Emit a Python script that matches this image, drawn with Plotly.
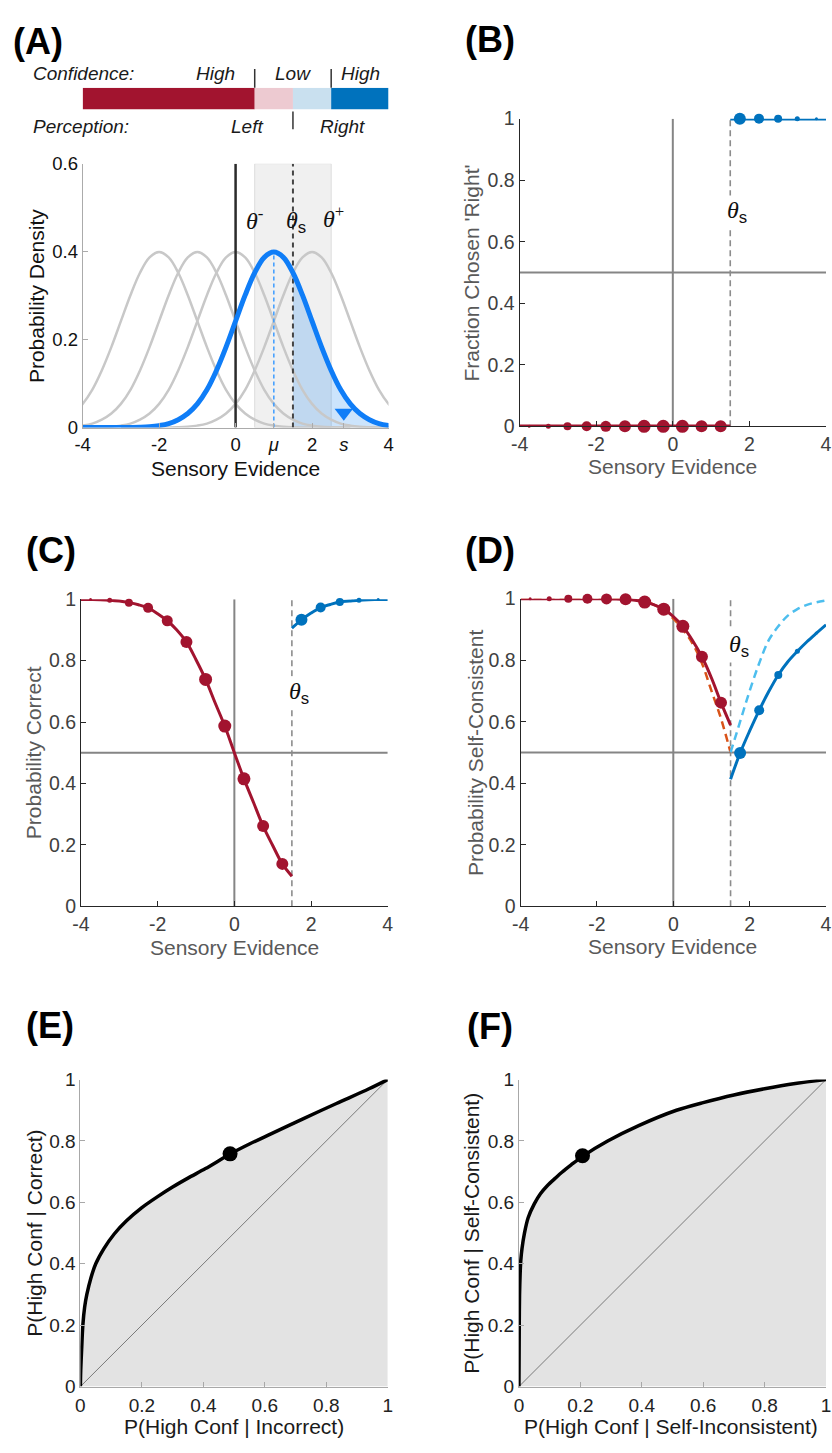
import plotly.graph_objects as go

W, H = 832, 1453

# ---------------- data ----------------
# Panel A (sensory-evidence units)
theta_minus = 0.5
theta_s = 1.5
theta_plus = 2.5
mu = 1.0
s_obs = 2.83
gray_means = [-2.0, -1.0, 0.0, 2.0]
# half profile of the evidence density curves, read at offsets 0..5 (step 0.25) from each peak
profile_offsets = [0.0, 0.25, 0.5, 0.75, 1.0, 1.25, 1.5, 1.75, 2.0, 2.25, 2.5,
                   2.75, 3.0, 3.25, 3.5, 3.75, 4.0, 4.25, 4.5, 4.75, 5.0]
profile_density = [0.399, 0.387, 0.352, 0.301, 0.242, 0.183, 0.130, 0.086, 0.054, 0.032, 0.018,
                   0.009, 0.0045, 0.002, 0.0009, 0.0004, 0.0001, 0.0, 0.0, 0.0, 0.0]
conf_edges = [-4.0, theta_minus, theta_s, theta_plus, 4.0]
a_tick_vals = [-4, -2, 0, mu, 2, s_obs, 4]
a_tick_text = ["-4", "-2", "0", "<i>μ</i>", "2", "<i>s</i>", "4"]

# Panels B-D: evidence bins
bin_centers = [-3.75, -3.25, -2.75, -2.25, -1.75, -1.25, -0.75, -0.25,
               0.25, 0.75, 1.25, 1.75, 2.25, 2.75, 3.25, 3.75]
bin_marker_px = [3, 5, 8, 10, 11, 12, 13, 13, 13, 12, 12, 12, 10, 8, 5, 3]
frac_right = [0, 0, 0, 0, 0, 0, 0, 0, 0, 0, 0, 1, 1, 1, 1, 1]

p_correct_bins = [0.999, 0.997, 0.989, 0.972, 0.930, 0.861, 0.739, 0.587,
                  0.415, 0.261, 0.138, 0.933, 0.973, 0.991, 0.997, 0.999]
c_left_x = [-4.0, -3.75, -3.5, -3.25, -3.0, -2.75, -2.5, -2.25, -2.0, -1.75, -1.5, -1.25,
            -1.0, -0.75, -0.5, -0.25, 0.0, 0.25, 0.5, 0.75, 1.0, 1.25, 1.5]
c_left_y = [0.9996, 0.9992, 0.9985, 0.997, 0.994, 0.989, 0.982, 0.972, 0.953, 0.930, 0.900, 0.861,
            0.803, 0.739, 0.662, 0.587, 0.500, 0.415, 0.338, 0.261, 0.198, 0.138, 0.098]
c_right_x = [1.5, 1.75, 2.0, 2.25, 2.5, 2.75, 3.0, 3.25, 3.5, 3.75, 4.0]
c_right_y = [0.906, 0.933, 0.955, 0.973, 0.983, 0.991, 0.994, 0.997, 0.9985, 0.999, 0.9996]

p_sc_bins = [1.0, 1.0, 1.0, 1.0, 0.999, 0.998, 0.989, 0.966,
             0.910, 0.811, 0.662, 0.498, 0.637, 0.752, 0.829, 0.888]
d_left_y = [1.0, 1.0, 1.0, 1.0, 1.0, 1.0, 1.0, 1.0, 1.0, 0.999, 0.999, 0.998,
            0.995, 0.989, 0.980, 0.966, 0.942, 0.910, 0.865, 0.811, 0.742, 0.662, 0.589]
d_left_dash_y = [1.0, 1.0, 1.0, 1.0, 1.0, 1.0, 1.0, 1.0, 1.0, 1.0, 1.0, 0.999,
                 0.996, 0.990, 0.980, 0.962, 0.935, 0.900, 0.855, 0.790, 0.700, 0.610, 0.500]
d_right_y = [0.413, 0.498, 0.570, 0.637, 0.698, 0.752, 0.795, 0.829, 0.860, 0.888, 0.915]
d_right_dash_y = [0.500, 0.600, 0.700, 0.790, 0.865, 0.910, 0.945, 0.966, 0.980, 0.988, 0.994]

# Panels E-F: type-2 ROC curves
roc_e_x = [0, 0.001, 0.004, 0.008, 0.014, 0.021, 0.034, 0.05, 0.077, 0.11, 0.15, 0.2,
           0.25, 0.3, 0.35, 0.407, 0.49, 0.55, 0.62, 0.726, 0.833, 0.939, 1.0]
roc_e_y = [0, 0.05, 0.12, 0.2, 0.26, 0.3, 0.353, 0.4, 0.45, 0.497, 0.54, 0.583,
           0.618, 0.65, 0.679, 0.71, 0.759, 0.79, 0.823, 0.873, 0.922, 0.97, 1.0]
roc_e_point = [0.487, 0.758]
roc_f_x = [0, 0.001, 0.002, 0.004, 0.006, 0.01, 0.018, 0.03, 0.05, 0.07, 0.093, 0.12, 0.14, 0.17,
           0.207, 0.289, 0.39, 0.513, 0.6, 0.7, 0.8, 0.9, 1.0]
roc_f_y = [0, 0.2, 0.3, 0.37, 0.41, 0.45, 0.5, 0.55, 0.595, 0.628, 0.655, 0.68, 0.698, 0.722,
           0.75, 0.8, 0.85, 0.9, 0.925, 0.95, 0.97, 0.987, 1.0]
roc_f_point = [0.207, 0.752]

# ---------------- styles ----------------
RED = "#A2142F"
BLUE = "#0072BD"
ORANGE = "#D95319"
LBLUE = "#4DBEEE"
REFGRAY = "#858585"
FONT = "Liberation Sans, Arial, sans-serif"
SERIF = "Liberation Serif, Times New Roman, serif"


def px(x):
    return x / W


def py(y):
    return 1 - y / H


def ax(n):
    return ("x" if n == 1 else f"x{n}"), ("y" if n == 1 else f"y{n}")


fig = go.Figure()


def add(n, **kw):
    xa, ya = ax(n)
    kw.setdefault("showlegend", False)
    kw.setdefault("hoverinfo", "skip")
    fig.add_trace(go.Scatter(xaxis=xa, yaxis=ya, **kw))


# full symmetric density profile
full_off = [-o for o in profile_offsets[::-1]] + profile_offsets[1:]
full_den = profile_density[::-1] + profile_density[1:]

# ---------- Panel A ----------
bx = [mu + o for o, d in zip(full_off, full_den) if theta_s <= mu + o <= 4.0]
by = [d for o, d in zip(full_off, full_den) if theta_s <= mu + o <= 4.0]
add(1, x=bx, y=by, mode="lines", fill="tozeroy", fillcolor="rgba(0,120,240,0.2)",
    line=dict(width=0, shape="spline"))
for m in gray_means:
    add(1, x=[m + o for o in full_off], y=full_den, mode="lines",
        line=dict(color="#C8C8C8", width=2.5, shape="spline"))
add(1, x=[0, 0], y=[0, 0.6], mode="lines", line=dict(color="#2B2B2B", width=2.5))
add(1, x=[theta_s, theta_s], y=[0, 0.6], mode="lines",
    line=dict(color="#444444", width=2, dash="5px,4px"))
add(1, x=[mu, mu], y=[0, profile_density[0]], mode="lines",
    line=dict(color="#3C9BFF", width=1.5, dash="4px,3px"))
add(1, x=[mu + o for o in full_off], y=full_den, mode="lines",
    line=dict(color="#0F7DF7", width=5, shape="spline"))
add(1, x=[s_obs], y=[0.034], mode="markers", cliponaxis=False,
    marker=dict(symbol="triangle-down", size=16, color="#0F7DF7", opacity=1))

# confidence bar (axis 7)
conf_colors = [RED, "#EDCAD1", "#C9E0EF", BLUE]
fig.add_trace(go.Bar(orientation="h", y=[0.5] * 4,
                     x=[conf_edges[i + 1] - conf_edges[i] for i in range(4)],
                     base=conf_edges[:-1], width=1, marker=dict(color=conf_colors, line=dict(width=0)),
                     xaxis="x7", yaxis="y7", showlegend=False, hoverinfo="skip"))

# ---------- Panels B, C, D common ----------
left_idx = [i for i, c in enumerate(bin_centers) if c < theta_s]
right_idx = [i for i, c in enumerate(bin_centers) if c > theta_s]


def ref_lines(n):
    add(n, x=[-4, 4], y=[0.5, 0.5], mode="lines", line=dict(color=REFGRAY, width=2))
    add(n, x=[0, 0], y=[0, 1], mode="lines", line=dict(color=REFGRAY, width=2))
    add(n, x=[theta_s, theta_s], y=[0, 1], mode="lines",
        line=dict(color="#8C8C8C", width=1.6, dash="6px,4px"))


def bin_markers(n, vals):
    for idx, col in ((left_idx, RED), (right_idx, BLUE)):
        add(n, x=[bin_centers[i] for i in idx], y=[vals[i] for i in idx], mode="markers",
            cliponaxis=False,
            marker=dict(color=col, opacity=1, size=[bin_marker_px[i] for i in idx], line=dict(width=0)))


# Panel B
ref_lines(2)
add(2, x=[-4, theta_s], y=[frac_right[0], frac_right[0]], mode="lines", line=dict(color=RED, width=3.5))
add(2, x=[theta_s, 4], y=[frac_right[-1], frac_right[-1]], mode="lines", line=dict(color=BLUE, width=3.5))
bin_markers(2, frac_right)

# Panel C
ref_lines(3)
add(3, x=c_left_x, y=c_left_y, mode="lines", line=dict(color=RED, width=3, shape="spline"))
add(3, x=c_right_x, y=c_right_y, mode="lines", line=dict(color=BLUE, width=3, shape="spline"))
bin_markers(3, p_correct_bins)

# Panel D
ref_lines(4)
add(4, x=c_left_x, y=d_left_dash_y, mode="lines", line=dict(color=ORANGE, width=2.5, dash="8px,5px", shape="spline"))
add(4, x=c_right_x, y=d_right_dash_y, mode="lines", line=dict(color=LBLUE, width=2.5, dash="8px,5px", shape="spline"))
add(4, x=c_left_x, y=d_left_y, mode="lines", line=dict(color=RED, width=3, shape="spline"))
add(4, x=c_right_x, y=d_right_y, mode="lines", line=dict(color=BLUE, width=3, shape="spline"))
bin_markers(4, p_sc_bins)

# Panels E, F
for n, rx, ry, pt in ((5, roc_e_x, roc_e_y, roc_e_point), (6, roc_f_x, roc_f_y, roc_f_point)):
    add(n, x=rx, y=ry, mode="lines", fill="tozeroy", fillcolor="#E3E3E3",
        line=dict(width=0, shape="spline", smoothing=0.8))
    add(n, x=[0, 1], y=[0, 1], mode="lines", line=dict(color="#7A7A7A", width=1))
    add(n, x=rx, y=ry, mode="lines", line=dict(color="black", width=3.5, shape="spline", smoothing=0.8))
    add(n, x=[pt[0]], y=[pt[1]], mode="markers", marker=dict(color="black", size=15, opacity=1))

# ---------------- layout ----------------
dom = {
    1: ([px(75), px(386.5)], [py(423), py(155)]),
    2: ([px(520), 1.0], [py(421.7), py(109.3)]),
    3: ([px(73.3), px(385.7)], [py(909), py(597.3)]),
    4: ([px(521), 1.0], [py(909), py(596.7)]),
    5: ([px(72.7), px(385.7)], [py(1396.7), py(1085)]),
    6: ([px(519.3), 1.0], [py(1396.7), py(1085)]),
}

layout = dict(width=W, height=H, margin=dict(l=0, r=0, t=0, b=0),
              paper_bgcolor="white", plot_bgcolor="rgba(0,0,0,0)",
              font=dict(family=FONT, size=18, color="#222"), showlegend=False)


def axis_style(linecolor, tickcolor, size):
    return dict(showgrid=False, zeroline=False, showline=True, linecolor=linecolor, linewidth=1,
                ticks="inside", ticklen=5, tickwidth=1, tickcolor=linecolor,
                ticklabeloverflow="allow",
                tickfont=dict(size=size, color=tickcolor, family=FONT), mirror=False, fixedrange=True)


unit_vals = [0, 0.2, 0.4, 0.6, 0.8, 1.0]
unit_text = ["0", "0.2", "0.4", "0.6", "0.8", "1"]
ev_vals = [-4, -2, 0, 2, 4]
ev_text = ["-4", "-2", "0", "2", "4"]

for n in range(1, 7):
    xd, yd = dom[n]
    xk = "xaxis" if n == 1 else f"xaxis{n}"
    yk = "yaxis" if n == 1 else f"yaxis{n}"
    ya = ax(n)[1]
    xa = ax(n)[0]
    if n == 1:
        xs = axis_style("#ABABAB", "#111", 18.5)
        ys = axis_style("#ABABAB", "#111", 18.5)
        xs.update(range=[-4, 4], tickvals=a_tick_vals, ticktext=a_tick_text)
        ys.update(range=[0, 0.6], tickvals=[0, 0.2, 0.4, 0.6], ticktext=["0", "0.2", "0.4", "0.6"])
    elif n in (2, 3, 4):
        xs = axis_style("#262626", "#404040", 19.5)
        ys = axis_style("#262626", "#404040", 19.5)
        xs.update(range=[-4, 4], tickvals=ev_vals, ticktext=ev_text)
        ys.update(range=[0, 1], tickvals=unit_vals, ticktext=unit_text)
    else:
        xs = axis_style("#A8A8A8", "#222", 19)
        ys = axis_style("#A8A8A8", "#222", 19)
        xs.update(range=[0, 1], tickvals=unit_vals, ticktext=unit_text, ticklabelstandoff=2)
        ys.update(range=[0, 1], tickvals=unit_vals, ticktext=unit_text)
    xs.update(domain=xd, anchor=ya)
    ys.update(domain=yd, anchor=xa)
    layout[xk] = xs
    layout[yk] = ys

layout["xaxis7"] = dict(domain=dom[1][0], range=[-4, 4], visible=False, anchor="y7", fixedrange=True)
layout["yaxis7"] = dict(domain=[py(100), py(78)], range=[0, 1], visible=False, anchor="x7", fixedrange=True)

fig.update_layout(**layout)

# shapes
shapes = [
    dict(type="rect", xref="x", yref="y", x0=theta_minus, x1=theta_plus, y0=0, y1=0.6,
         fillcolor="#F0F0F0", line=dict(color="#DCDCDC", width=1), layer="below"),
    dict(type="line", xref="x7", yref="paper", x0=theta_minus, x1=theta_minus, y0=py(78), y1=py(59),
         line=dict(color="#333", width=1.5)),
    dict(type="line", xref="x7", yref="paper", x0=theta_plus, x1=theta_plus, y0=py(78), y1=py(59),
         line=dict(color="#333", width=1.5)),
    dict(type="line", xref="x7", yref="paper", x0=theta_s, x1=theta_s, y0=py(102), y1=py(120),
         line=dict(color="#333", width=1.5)),
]
fig.update_layout(shapes=shapes)

ann = []


def text(xp, yp, t, size=21, color="#1a1a1a", xanchor="center", angle=0, family=FONT):
    ann.append(dict(x=px(xp), y=py(yp), xref="paper", yref="paper", text=t, showarrow=False,
                    xanchor=xanchor, yanchor="middle", textangle=angle,
                    font=dict(size=size, color=color, family=family)))


# panel labels
for lab, xp, yp in (("(A)", 2, 31), ("(B)", 462, 29), ("(C)", 15, 548), ("(D)", 462, 548),
                    ("(E)", 15, 1030), ("(F)", 464, 1031)):
    text(xp, yp, f"<b>{lab}</b>", size=36, color="black", xanchor="left")

# confidence bar texts
text(22, 63, "<i>Confidence:</i>", size=19, xanchor="left")
text(210, 63, "<i>High</i>", size=19)
text(289, 63, "<i>Low</i>", size=19)
text(358, 63, "<i>High</i>", size=19)
text(22, 117, "<i>Perception:</i>", size=19, xanchor="left")
text(242, 117, "<i>Left</i>", size=19)
text(340, 117, "<i>Right</i>", size=19)

# axis titles
text(28, 289, "Probability Density", angle=-90, color="#111")
text(230.7, 465, "Sensory Evidence", color="#111")
text(471, 266, "Fraction Chosen 'Right'", angle=-90, color="#595959")
text(676, 463, "Sensory Evidence", color="#595959")
text(25, 753, "Probability Correct", angle=-90, color="#595959")
text(230, 951, "Sensory Evidence", color="#595959")
text(475, 753, "Probability Self-Consistent", angle=-90, color="#595959")
text(676, 950, "Sensory Evidence", color="#595959")
text(26, 1241, "P(High Conf | Correct)", angle=-90)
text(229, 1437, "P(High Conf | Incorrect)")
text(471, 1241, "P(High Conf | Self-Consistent)", angle=-90)
text(674, 1437, "P(High Conf | Self-Inconsistent)")

SUBS = "<sub><span style='font-family:Liberation Sans, Arial, sans-serif'>s</span></sub>"


def theta(n, x, y, t, bg=None):
    xa, ya = ax(n)
    d = dict(x=x, y=y, xref=xa, yref=ya, text=t, showarrow=False, xanchor="center", yanchor="middle",
             font=dict(size=24, color="#111", family=SERIF))
    if bg:
        d.update(bgcolor=bg, borderpad=1)
    ann.append(d)


theta(1, theta_minus, 0.475, "<i>θ</i><sup>-</sup>")
theta(1, theta_s + 0.08, 0.468, "<i>θ</i>" + SUBS)
theta(1, theta_plus + 0.05, 0.478, "<i>θ</i><sup>+</sup>")
theta(2, 1.68, 0.696, "<i>θ</i>" + SUBS, bg="white")
theta(3, 1.68, 0.696, "<i>θ</i>" + SUBS, bg="white")
theta(4, 1.71, 0.845, "<i>θ</i>" + SUBS, bg="white")

fig.update_layout(annotations=ann)
fig.write_html("out.html")
